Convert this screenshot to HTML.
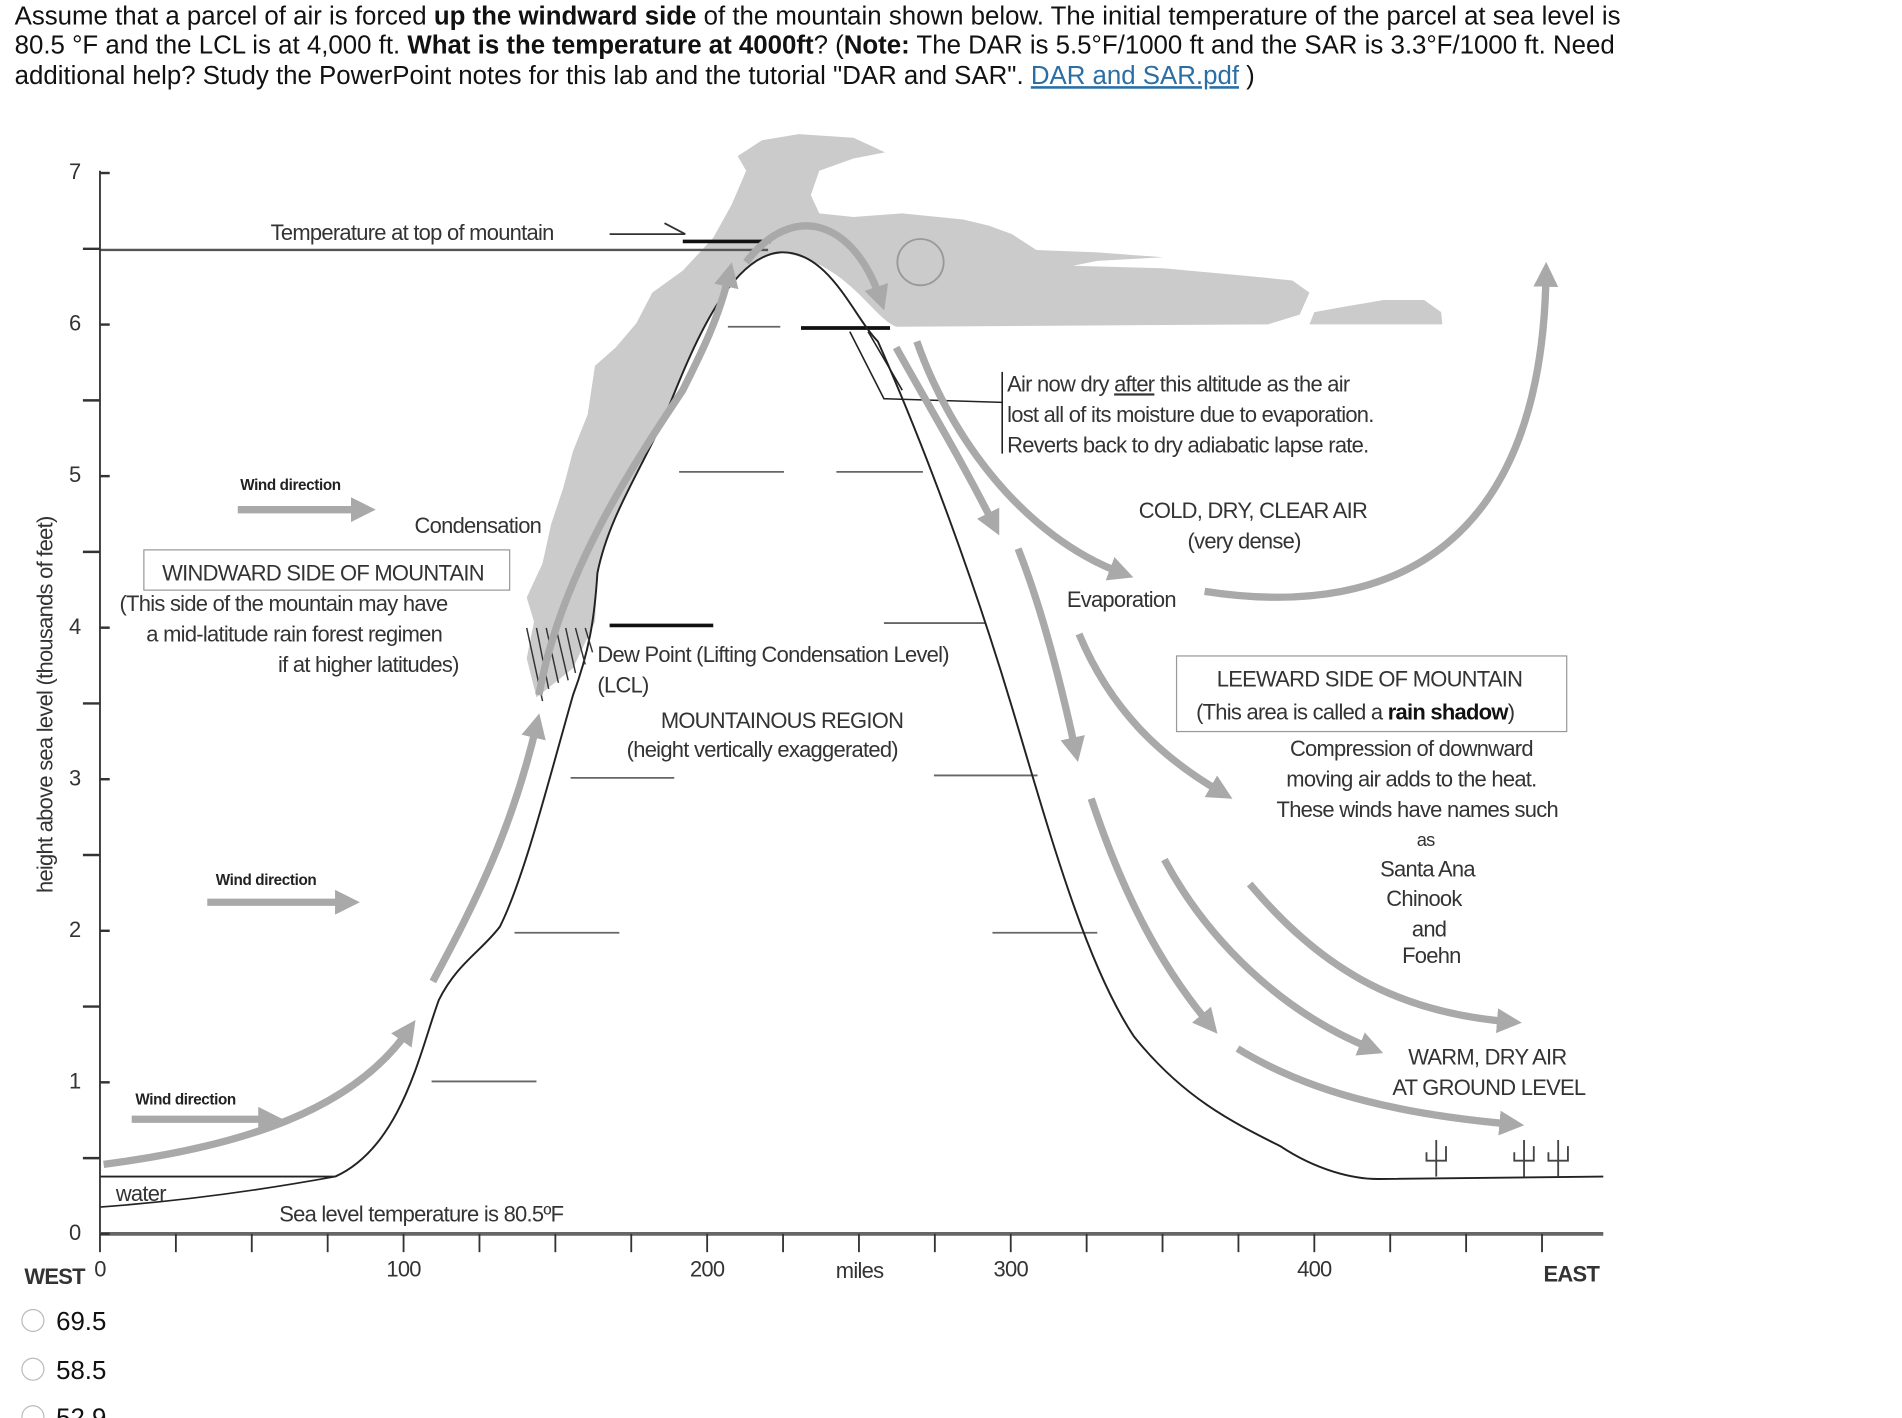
<!DOCTYPE html>
<html><head><meta charset="utf-8">
<style>
html,body{margin:0;padding:0;background:#fff;}
body{width:1902px;height:1418px;overflow:hidden;}
svg{display:block;}
.q{font-family:"Liberation Sans",Arial,sans-serif;font-size:21.2px;fill:#111;}
.d{font-family:"Liberation Sans",sans-serif;font-size:18px;fill:#333;letter-spacing:-0.6px;}
.s{font-family:"Liberation Sans",sans-serif;font-size:12.5px;fill:#222;font-weight:bold;letter-spacing:-0.3px;}
.ga{fill:none;stroke:#a9a9a9;stroke-width:6;}
</style></head><body>
<svg id="fig" width="1902" height="1418" viewBox="0 0 1560 1163" xmlns="http://www.w3.org/2000/svg">
<defs>
<marker id="ah" markerWidth="3.4" markerHeight="3.4" refX="1.7" refY="1.7" orient="auto" markerUnits="strokeWidth"><path d="M0,0 L3.4,1.7 L0,3.4 z" fill="#a9a9a9"/></marker>
</defs>
<g>
<text class="q" x="12" y="20">Assume that a parcel of air is forced <tspan font-weight="bold">up the windward side</tspan> of the mountain shown below. The initial temperature of the parcel at sea level is</text>
<text class="q" x="12" y="44">80.5 °F and the LCL is at 4,000 ft. <tspan font-weight="bold">What is the temperature at 4000ft</tspan>? (<tspan font-weight="bold">Note:</tspan> The DAR is 5.5°F/1000 ft and the SAR is 3.3°F/1000 ft. Need</text>
<text class="q" x="12" y="69">additional help? Study the PowerPoint notes for this lab and the tutorial "DAR and SAR". <tspan fill="#2a6ea6" text-decoration="underline">DAR and SAR.pdf</tspan> )</text>
</g>
<path fill="#cbcbcb" d="M440,572 L432,540 L438,510 L432,490 L445,462 L452,430 L462,400 L470,370 L482,340 L488,300 L505,285 L522,265 L535,240 L560,222 L585,195 L600,168 L612,140 L605,128 L625,115 L655,110 L700,113 L726,125 L700,130 L672,140 L665,160 L672,175 L700,178 L740,175 L790,180 L811,185 L830,192 L850,205 L900,207 L954,211 L900,214 L880,218 L954,220 L1020,226 L1060,230 L1074,240 L1066,258 L1040,266 L735,268 C715,260 695,215 640,207 C600,210 575,270 550,330 C530,380 500,420 490,470 L488,510 L470,548 Z"/>
<path fill="#cbcbcb" d="M1074,266 L1078,256 L1100,252 L1135,246 L1168,246 L1182,256 L1183,266 Z"/>
<g>
<line x1="82" y1="205" x2="630" y2="205" stroke="#555" stroke-width="2"/>
<line x1="560" y1="198" x2="632" y2="198" stroke="#111" stroke-width="3"/>
<line x1="657" y1="269" x2="730" y2="269" stroke="#111" stroke-width="3"/>
<line x1="597" y1="268" x2="640" y2="268" stroke="#666" stroke-width="1.5"/>
<line x1="557" y1="387" x2="643" y2="387" stroke="#666" stroke-width="1.5"/>
<line x1="686" y1="387" x2="757" y2="387" stroke="#666" stroke-width="1.5"/>
<line x1="500" y1="513" x2="585" y2="513" stroke="#111" stroke-width="3"/>
<line x1="725" y1="511" x2="808" y2="511" stroke="#666" stroke-width="1.5"/>
<line x1="468" y1="638" x2="553" y2="638" stroke="#666" stroke-width="1.5"/>
<line x1="766" y1="636" x2="851" y2="636" stroke="#666" stroke-width="1.5"/>
<line x1="422" y1="765" x2="508" y2="765" stroke="#666" stroke-width="1.5"/>
<line x1="814" y1="765" x2="900" y2="765" stroke="#666" stroke-width="1.5"/>
<line x1="354" y1="887" x2="440" y2="887" stroke="#666" stroke-width="1.5"/>
<path d="M500,192 L562,192 L545,183" fill="none" stroke="#333" stroke-width="1.5"/>
</g>
<path fill="none" stroke="#222" stroke-width="1.6" d="M82,965 L275,965 C330,940 345,860 360,820 C375,790 395,780 410,760 C430,720 450,640 470,570 C485,530 488,500 490,470 C500,420 530,380 550,330 C570,280 600,210 640,207 C680,205 700,260 720,280 C760,370 800,480 830,580 C860,680 890,790 930,850 C970,900 1010,920 1050,940 C1080,960 1110,967 1130,967 L1315,965"/>
<path fill="none" stroke="#222" stroke-width="1.4" d="M82,990 C150,985 220,975 275,965"/>
<path d="M697,272 L725,327 L822,330 M712,272 L740,320" fill="none" stroke="#222" stroke-width="1.3"/>
<line x1="822" y1="305" x2="822" y2="372" stroke="#222" stroke-width="1.3"/>
<g stroke="#333" stroke-width="1.2">
<line x1="432" y1="515" x2="445" y2="575"/><line x1="440" y1="515" x2="450" y2="565"/><line x1="448" y1="515" x2="458" y2="560"/><line x1="456" y1="515" x2="466" y2="558"/><line x1="464" y1="515" x2="472" y2="552"/><line x1="472" y1="515" x2="480" y2="545"/><line x1="480" y1="515" x2="486" y2="535"/>
</g>
<circle cx="755" cy="215" r="19" fill="none" stroke="#999" stroke-width="1.5"/>
<g>
<path class="ga" marker-end="url(#ah)" d="M85,955 C200,940 290,910 335,845"/>
<path class="ga" marker-end="url(#ah)" d="M355,805 C390,740 420,680 440,595"/>
<path class="ga" marker-end="url(#ah)" d="M442,570 C460,470 520,380 560,320 C575,290 590,260 598,225"/>
<path class="ga" marker-end="url(#ah)" d="M612,215 C650,165 700,180 722,245"/>
<path class="ga" marker-end="url(#ah)" d="M735,285 C760,330 790,380 815,430"/>
<path class="ga" marker-end="url(#ah)" d="M752,280 C780,360 840,440 920,470"/>
<path class="ga" marker-end="url(#ah)" d="M835,450 C855,500 870,560 882,615"/>
<path class="ga" marker-end="url(#ah)" d="M885,520 C910,580 950,620 1002,650"/>
<path class="ga" marker-end="url(#ah)" d="M895,655 C920,730 950,790 992,840"/>
<path class="ga" marker-end="url(#ah)" d="M955,705 C990,770 1050,830 1125,860"/>
<path class="ga" marker-end="url(#ah)" d="M1025,725 C1080,790 1140,830 1238,838"/>
<path class="ga" marker-end="url(#ah)" d="M1015,860 C1080,900 1160,915 1240,922"/>
<path class="ga" marker-end="url(#ah)" d="M988,485 C1150,510 1265,440 1268,225"/>
<path class="ga" marker-end="url(#ah)" d="M170,740 L285,740"/>
<path class="ga" marker-end="url(#ah)" d="M195,418 L298,418"/>
<path class="ga" marker-end="url(#ah)" d="M108,918 L222,918"/>
</g>
<g stroke="#444" stroke-width="1.5" fill="none">
<path d="M1178,965 V935 M1170,945 V952 H1186 V940"/><path d="M1250,965 V935 M1242,945 V952 H1258 V940"/><path d="M1278,965 V935 M1270,945 V952 H1286 V940"/>
</g>
<g id="axes">
<line x1="82" y1="140" x2="82" y2="1012" stroke="#333" stroke-width="1.5"/>
<line x1="82" y1="1012" x2="1315" y2="1012" stroke="#666" stroke-width="3"/>
</g>
<text class="d" x="0" y="0" transform="translate(43,578) rotate(-90)" text-anchor="middle" font-size="16" fill="#555">height above sea level (thousands of feet)</text>
<g class="d">
<text x="222" y="197">Temperature at top of mountain</text>
<text x="340" y="437">Condensation</text>
<rect x="118" y="451" width="300" height="33" fill="none" stroke="#999"/>
<text x="133" y="476">WINDWARD SIDE OF MOUNTAIN</text>
<text x="98" y="501">(This side of the mountain may have</text>
<text x="120" y="526">a mid-latitude rain forest regimen</text>
<text x="228" y="551">if at higher latitudes)</text>
<text x="490" y="543">Dew Point (Lifting Condensation Level)</text>
<text x="490" y="568">(LCL)</text>
<text x="542" y="597">MOUNTAINOUS REGION</text>
<text x="514" y="621">(height vertically exaggerated)</text>
<text x="826" y="321">Air now dry <tspan text-decoration="underline">after</tspan> this altitude as the air</text>
<text x="826" y="346">lost all of its moisture due to evaporation.</text>
<text x="826" y="371">Reverts back to dry adiabatic lapse rate.</text>
<text x="934" y="425">COLD, DRY, CLEAR AIR</text>
<text x="974" y="450">(very dense)</text>
<text x="875" y="498">Evaporation</text>
<rect x="965" y="538" width="320" height="62" fill="none" stroke="#999"/>
<text x="998" y="563">LEEWARD SIDE OF MOUNTAIN</text>
<text x="981" y="590">(This area is called a <tspan font-weight="bold" fill="#111">rain shadow</tspan>)</text>
<text x="1058" y="620">Compression of downward</text>
<text x="1055" y="645">moving air adds to the heat.</text>
<text x="1047" y="670">These winds have names such</text>
<text x="1162" y="694" font-size="15">as</text>
<text x="1132" y="719">Santa Ana</text>
<text x="1137" y="743">Chinook</text>
<text x="1158" y="768">and</text>
<text x="1150" y="790">Foehn</text>
<text x="1155" y="873">WARM, DRY AIR</text>
<text x="1142" y="898">AT GROUND LEVEL</text>
<text x="95" y="985">water</text>
<text x="229" y="1002">Sea level temperature is 80.5ºF</text>
</g>
<text class="s" x="197" y="402">Wind direction</text>
<text class="s" x="177" y="726">Wind direction</text>
<text class="s" x="111" y="906">Wind direction</text>
<text class="d" x="20" y="1053" font-weight="bold" fill="#222">WEST</text>
<text class="d" x="1266" y="1051" font-weight="bold" fill="#222">EAST</text>
<g>
<circle cx="27" cy="1083" r="9" fill="#fff" stroke="#bbb"/>
<text class="q" x="46" y="1091">69.5</text>
<circle cx="27" cy="1123" r="9" fill="#fff" stroke="#bbb"/>
<text class="q" x="46" y="1131">58.5</text>
<circle cx="27" cy="1162" r="9" fill="#fff" stroke="#bbb"/>
<text class="q" x="46" y="1170">52.9</text>
</g>
</svg>
<script>
const yTicks = [0,1,2,3,4,5,6,7];
const xTicks = [0,25,50,75,100,125,150,175,200,225,250,275,300,325,350,375,400,425,450,475];
const xLabels = [0,100,200,300,400];
const NS = "http://www.w3.org/2000/svg";
const ax = document.getElementById('axes');
function yPos(v){return 1012 - v*124.3;}
function xPos(v){return 82 + v*2.49;}
for (let i=0;i<yTicks.length;i++){
  const v=yTicks[i];
  const l=document.createElementNS(NS,'line');
  l.setAttribute('x1',82);l.setAttribute('x2',90);l.setAttribute('y1',yPos(v));l.setAttribute('y2',yPos(v));
  l.setAttribute('stroke','#333');l.setAttribute('stroke-width','2');
  
  
  ax.appendChild(l);
  if (v<7){
    const m=document.createElementNS(NS,'line');
    m.setAttribute('x1',68);m.setAttribute('x2',82);m.setAttribute('y1',yPos(v+0.5));m.setAttribute('y2',yPos(v+0.5));
    m.setAttribute('stroke','#333');m.setAttribute('stroke-width','2');
    
    
    ax.appendChild(m);
  }
  const t=document.createElementNS(NS,'text');
  t.setAttribute('x',66);t.setAttribute('y',yPos(v)+5);t.setAttribute('text-anchor','end');
  t.setAttribute('class','d');t.setAttribute('font-size','15');
  t.textContent=v;
  
  
  ax.appendChild(t);
}
for (const v of xTicks){
  const l=document.createElementNS(NS,'line');
  l.setAttribute('x1',xPos(v));l.setAttribute('x2',xPos(v));l.setAttribute('y1',1012);l.setAttribute('y2',1027);
  l.setAttribute('stroke','#333');l.setAttribute('stroke-width','1.5');
  
  
  ax.appendChild(l);
}
for (const v of xLabels){
  const t=document.createElementNS(NS,'text');
  t.setAttribute('x',xPos(v));t.setAttribute('y',1047);t.setAttribute('text-anchor','middle');
  t.setAttribute('class','d');t.setAttribute('font-size','16');
  t.textContent=v;
  
  
  ax.appendChild(t);
}
const mt=document.createElementNS(NS,'text');
mt.setAttribute('x',705);mt.setAttribute('y',1048);mt.setAttribute('text-anchor','middle');
mt.setAttribute('class','d');mt.setAttribute('font-size','16');
mt.textContent='miles';


ax.appendChild(mt);
</script>
</body></html>
